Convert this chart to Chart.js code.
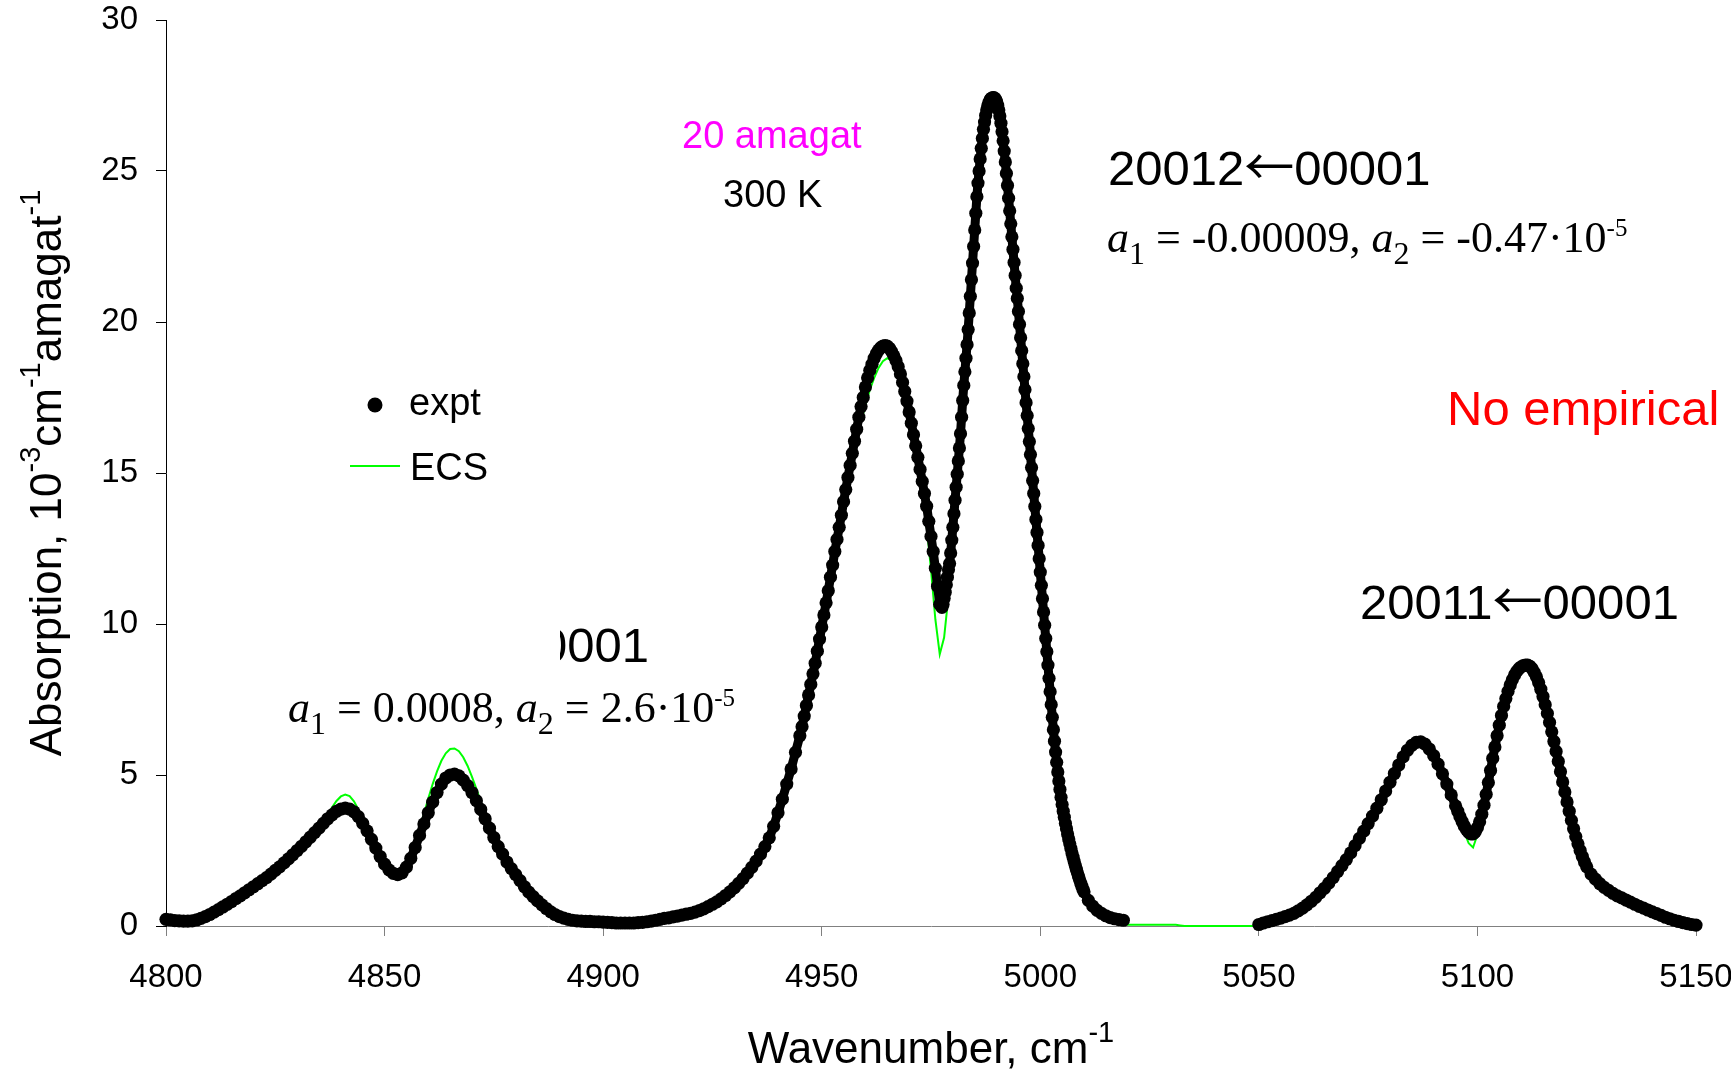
<!DOCTYPE html>
<html>
<head>
<meta charset="utf-8">
<script src="https://cdn.jsdelivr.net/npm/chart.js@4.4.1/dist/chart.umd.min.js"></script>
<style>
    html, body { margin: 0; padding: 0; background: #fff; }
    #wrap { width: 1731px; height: 1072px; position: relative; }
</style>
</head>
<body>
<div id="wrap"><canvas id="myChart"></canvas></div>
<script>
// Измеренный спектр (expt) — куски с разным шагом по волновому числу
// 4800–4945, шаг 1
const exptA = [
    0.22, 0.20, 0.18, 0.17, 0.16, 0.16, 0.17, 0.20, 0.25, 0.31,
    0.38, 0.46, 0.54, 0.63, 0.72, 0.81, 0.91, 1.00, 1.10, 1.20,
    1.30, 1.40, 1.50, 1.60, 1.72, 1.84, 1.96, 2.09, 2.22, 2.36,
    2.50, 2.64, 2.79, 2.94, 3.09, 3.24, 3.40, 3.55, 3.68, 3.80,
    3.87, 3.90, 3.87, 3.78, 3.62, 3.40, 3.15, 2.87, 2.58, 2.30,
    2.05, 1.86, 1.74, 1.70, 1.76, 1.95, 2.24, 2.60, 3.00, 3.38,
    3.75, 4.10, 4.42, 4.70, 4.90, 5.00, 5.03, 4.97, 4.83, 4.65,
    4.42, 4.15, 3.86, 3.55, 3.24, 2.93, 2.63, 2.38, 2.12, 1.90,
    1.70, 1.50, 1.30, 1.12, 0.97, 0.83, 0.70, 0.58, 0.47, 0.38,
    0.31, 0.26, 0.22, 0.19, 0.17, 0.16, 0.15, 0.15, 0.14, 0.14,
    0.13, 0.12, 0.11, 0.10, 0.10, 0.10, 0.10, 0.10, 0.11, 0.12,
    0.14, 0.16, 0.19, 0.22, 0.25, 0.27, 0.30, 0.33, 0.36, 0.39,
    0.42, 0.46, 0.51, 0.57, 0.64, 0.72, 0.80, 0.90, 1.01, 1.13,
    1.26, 1.41, 1.57, 1.75, 1.94, 2.15, 2.38, 2.63, 2.92, 3.30,
    3.75, 4.20, 4.70, 5.20, 5.75, 6.30
];
// 4945.5–4977.5, шаг 0.5
const exptB = [
    6.60, 6.95, 7.30, 7.65, 8.00, 8.35, 8.70, 9.10, 9.50, 9.90,
    10.30, 10.70, 11.10, 11.55, 11.95, 12.40, 12.80, 13.20, 13.60, 14.05,
    14.45, 14.85, 15.25, 15.65, 16.05, 16.45, 16.85, 17.20, 17.50, 17.85,
    18.15, 18.40, 18.60, 18.80, 18.95, 19.07, 19.15, 19.20, 19.22, 19.20,
    19.13, 19.02, 18.88, 18.72, 18.52, 18.28, 18.00, 17.70, 17.38, 17.02,
    16.65, 16.27, 15.90, 15.52, 15.12, 14.72, 14.32, 13.90, 13.40, 12.90,
    12.40, 11.85, 11.25, 10.65, 10.55
];
// 4977.75–5010, шаг 0.25 (главный пик)
const exptC = [
    10.65, 10.85, 11.05, 11.30, 11.55, 11.80, 12.00, 12.35, 12.78, 13.20,
    13.65, 14.10, 14.53, 14.96, 15.40, 15.83, 16.30, 16.85, 17.40, 17.90,
    18.35, 18.80, 19.25, 19.75, 20.30, 20.85, 21.40, 21.95, 22.50, 23.05,
    23.60, 24.15, 24.60, 25.00, 25.40, 25.75, 26.08, 26.38, 26.62, 26.84,
    27.02, 27.16, 27.27, 27.35, 27.40, 27.42, 27.43, 27.42, 27.38, 27.30,
    27.18, 27.02, 26.82, 26.58, 26.30, 26.00, 25.66, 25.30, 24.92, 24.52,
    24.10, 23.68, 23.25, 22.82, 22.40, 21.97, 21.54, 21.12, 20.78, 20.35,
    19.92, 19.48, 19.05, 18.62, 18.19, 17.76, 17.33, 16.90, 16.47, 16.04,
    15.61, 15.18, 14.75, 14.32, 13.89, 13.46, 13.03, 12.60, 12.16, 11.72,
    11.28, 10.84, 10.40, 9.96, 9.52, 9.08, 8.64, 8.20, 7.76, 7.33,
    6.91, 6.50, 6.12, 5.76, 5.42, 5.10, 4.80, 4.52, 4.26, 4.02,
    3.80, 3.60, 3.40, 3.22, 3.05, 2.88, 2.72, 2.57, 2.42, 2.28,
    2.14, 2.01, 1.88, 1.76, 1.64, 1.53, 1.42, 1.32, 1.22, 1.13
];
// 5011–5019, шаг 1
const exptD = [0.85, 0.66, 0.52, 0.42, 0.34, 0.28, 0.24, 0.21, 0.19];
// 5050–5095, шаг 1
const exptE = [
    0.05, 0.10, 0.14, 0.18, 0.22, 0.26, 0.31, 0.36, 0.42, 0.50,
    0.59, 0.70, 0.82, 0.95, 1.10, 1.25, 1.42, 1.60, 1.80, 2.00,
    2.20, 2.42, 2.66, 2.90, 3.14, 3.39, 3.64, 3.90, 4.18, 4.47,
    4.76, 5.05, 5.33, 5.60, 5.82, 5.98, 6.08, 6.10, 6.02, 5.86,
    5.64, 5.36, 5.04, 4.70, 4.34, 3.98
];
// 5095.5–5125, шаг 0.5
const exptF = [
    3.80, 3.62, 3.46, 3.31, 3.19, 3.10, 3.05, 3.05, 3.12, 3.26,
    3.45, 3.70, 4.00, 4.36, 4.75, 5.15, 5.55, 5.93, 6.30, 6.65,
    6.97, 7.27, 7.53, 7.77, 7.98, 8.16, 8.31, 8.43, 8.52, 8.58,
    8.62, 8.64, 8.64, 8.60, 8.52, 8.40, 8.25, 8.06, 7.84, 7.60,
    7.33, 7.04, 6.74, 6.43, 6.11, 5.78, 5.45, 5.11, 4.77, 4.44,
    4.11, 3.80, 3.50, 3.22, 2.96, 2.72, 2.50, 2.30, 2.12, 1.96
];
// 5126–5150, шаг 1
const exptG = [
    1.72, 1.55, 1.40, 1.28, 1.18, 1.08, 1.00, 0.93, 0.86, 0.79,
    0.72, 0.65, 0.59, 0.53, 0.47, 0.41, 0.35, 0.29, 0.24, 0.19,
    0.15, 0.11, 0.08, 0.05, 0.03
];

// начало и шаг каждого куска: [start, step, values]
const exptSegments = [
    [4800, 1, exptA], [4945.5, 0.5, exptB], [4977.75, 0.25, exptC], [5011, 1, exptD],
    [5050, 1, exptE], [5095.5, 0.5, exptF], [5126, 1, exptG]
];

// Расчёт ECS, 4800–5150, шаг 1
const ecsStart = 4800;
const ecsValues = [
    0.22, 0.20, 0.18, 0.17, 0.16, 0.16, 0.17, 0.20, 0.25, 0.31,
    0.38, 0.46, 0.54, 0.63, 0.72, 0.81, 0.91, 1.00, 1.10, 1.20,
    1.30, 1.40, 1.50, 1.60, 1.72, 1.84, 1.96, 2.09, 2.22, 2.36,
    2.50, 2.64, 2.79, 2.94, 3.10, 3.28, 3.48, 3.70, 3.93, 4.14,
    4.29, 4.35, 4.30, 4.13, 3.86, 3.53, 3.18, 2.84, 2.53, 2.26,
    2.03, 1.85, 1.74, 1.70, 1.77, 1.98, 2.32, 2.75, 3.22, 3.72,
    4.22, 4.70, 5.12, 5.47, 5.72, 5.86, 5.88, 5.79, 5.59, 5.30,
    4.94, 4.54, 4.12, 3.71, 3.32, 2.96, 2.63, 2.36, 2.11, 1.90,
    1.70, 1.50, 1.30, 1.12, 0.97, 0.83, 0.70, 0.58, 0.47, 0.38,
    0.31, 0.26, 0.22, 0.19, 0.17, 0.16, 0.15, 0.15, 0.14, 0.14,
    0.13, 0.12, 0.11, 0.10, 0.10, 0.10, 0.10, 0.10, 0.11, 0.12,
    0.14, 0.16, 0.19, 0.22, 0.25, 0.27, 0.30, 0.33, 0.36, 0.39,
    0.42, 0.46, 0.51, 0.57, 0.64, 0.72, 0.80, 0.90, 1.01, 1.13,
    1.26, 1.41, 1.57, 1.75, 1.94, 2.15, 2.38, 2.63, 2.92, 3.30,
    3.75, 4.20, 4.70, 5.20, 5.75, 6.30, 6.90, 7.55, 8.25, 9.00,
    9.80, 10.62, 11.45, 12.28, 13.10, 13.90, 14.65, 15.38, 16.05, 16.70,
    17.25, 17.75, 18.15, 18.48, 18.70, 18.80, 18.74, 18.50, 18.12, 17.62,
    17.02, 16.30, 15.45, 14.45, 13.25, 11.80, 10.15, 9.00, 9.55, 10.95,
    13.10, 14.95, 16.85, 18.80, 20.85, 23.05, 25.00, 26.38, 27.16, 27.42,
    27.30, 26.58, 25.30, 23.68, 21.97, 20.35, 18.62, 16.90, 15.18, 13.46,
    11.72, 9.96, 8.20, 6.50, 5.10, 4.02, 3.22, 2.57, 2.01, 1.53,
    1.13, 0.85, 0.66, 0.52, 0.42, 0.34, 0.28, 0.24, 0.21, 0.16,
    0.04, 0.04, 0.04, 0.04, 0.04, 0.04, 0.04, 0.04, 0.04, 0.04,
    0.04, 0.04, 0.02, 0.00, 0.00, 0.00, 0.00, 0.00, 0.00, 0.00,
    0.00, 0.00, 0.00, 0.00, 0.00, 0.00, 0.00, 0.00, 0.00, 0.01,
    0.03, 0.10, 0.14, 0.18, 0.22, 0.26, 0.31, 0.36, 0.42, 0.50,
    0.59, 0.70, 0.82, 0.95, 1.10, 1.25, 1.42, 1.60, 1.80, 2.00,
    2.20, 2.42, 2.66, 2.90, 3.14, 3.39, 3.64, 3.90, 4.18, 4.47,
    4.76, 5.05, 5.33, 5.60, 5.82, 5.98, 6.08, 6.10, 6.02, 5.86,
    5.64, 5.36, 5.04, 4.70, 4.34, 3.95, 3.52, 3.10, 2.74, 2.60,
    3.02, 3.62, 4.36, 5.15, 5.93, 6.65, 7.27, 7.77, 8.16, 8.43,
    8.58, 8.64, 8.60, 8.40, 8.06, 7.60, 7.04, 6.43, 5.78, 5.11,
    4.44, 3.80, 3.22, 2.72, 2.30, 1.96, 1.72, 1.55, 1.40, 1.28,
    1.18, 1.08, 1.00, 0.93, 0.86, 0.79, 0.72, 0.65, 0.59, 0.53,
    0.47, 0.41, 0.35, 0.29, 0.24, 0.19, 0.15, 0.11, 0.08, 0.05,
    0.03
];

// Оси
const xMin = 4800, xMax = 5150, xStep = 50;
const yMin = 0, yMax = 30, yStep = 5;

// Подписи
const densityText = '20 amagat';
const tempText = '300 K';
const bandHigh = ['20012', '00001'];
const bandRight = ['20011', '00001'];
const bandLeftTail = '0001';
const coefHigh = ['-0.00009', '-0.47'];
const coefLow = ['0.0008', '2.6'];
const noteText = 'No empirical';

const SANS = "'Liberation Sans', Arial, sans-serif";
const SERIF = "'Liberation Serif', 'Times New Roman', serif";
const ARROW_FONT = "'Noto Sans CJK JP', 'DejaVu Sans', sans-serif";

function toPoints(start, step, values) {
    return values.map((v, i) => ({ x: start + i * step, y: v }));
}

// точки expt; между кусками с большим промежутком — разрыв линии
const exptPoints = [];
exptSegments.forEach((s, k) => {
    if (k > 0) {
        const prev = exptSegments[k - 1];
        const prevEnd = prev[0] + (prev[2].length - 1) * prev[1];
        if (s[0] - prevEnd > 5) exptPoints.push({ x: (prevEnd + s[0]) / 2, y: null });
    }
    exptPoints.push(...toPoints(s[0], s[1], s[2]));
});
const ecsPoints = toPoints(ecsStart, 1, ecsValues);

// Рисуем строку из кусков (индексы, степени) подряд
function drawRuns(ctx, x, y, runs, align) {
    let total = 0;
    runs.forEach(r => { ctx.font = r.font; r.w = ctx.measureText(r.text).width; total += r.w; });
    let cx = align === 'center' ? x - total / 2 : x;
    runs.forEach(r => {
        ctx.font = r.font;
        ctx.fillStyle = r.color || '#000';
        ctx.fillText(r.text, cx, y + (r.dy || 0));
        cx += r.w;
    });
}

function coefRuns(a1, a2) {
    const main = `44px ${SERIF}`, ital = `italic 44px ${SERIF}`, sub = `32px ${SERIF}`, sup = `25px ${SERIF}`;
    return [
        { text: 'a', font: ital },
        { text: '1', font: sub, dy: 12 },
        { text: ' = ' + a1 + ', ', font: main },
        { text: 'a', font: ital },
        { text: '2', font: sub, dy: 12 },
        { text: ' = ' + a2 + '\u00b710', font: main },
        { text: '-5', font: sup, dy: -16 }
    ];
}

function bandRuns(pair) {
    return [
        { text: pair[0], font: `49px ${SANS}` },
        { text: '\u2190', font: `50px ${ARROW_FONT}`, dy: 0 },
        { text: pair[1], font: `49px ${SANS}` }
    ];
}

const textPlugin = {
    id: 'textPlugin',
    afterDraw(chart) {
        const ctx = chart.ctx;
        ctx.save();
        ctx.textBaseline = 'alphabetic';
        ctx.textAlign = 'left';

        const big = `49px ${SANS}`, mid = `38px ${SANS}`;
        const title = `44px ${SANS}`, titleSup = `29px ${SANS}`;

        // заголовок оси Y
        ctx.save();
        ctx.translate(61, 473);
        ctx.rotate(-Math.PI / 2);
        drawRuns(ctx, 0, 0, [
            { text: 'Absorption, 10', font: title },
            { text: '-3', font: titleSup, dy: -21 },
            { text: 'cm', font: title },
            { text: '-1', font: titleSup, dy: -21 },
            { text: 'amagat', font: title },
            { text: '-1', font: titleSup, dy: -21 }
        ], 'center');
        ctx.restore();

        // заголовок оси X
        drawRuns(ctx, 931, 1063, [
            { text: 'Wavenumber, cm', font: title },
            { text: '-1', font: titleSup, dy: -21 }
        ], 'center');

        // условия
        drawRuns(ctx, 682, 148, [{ text: densityText, font: mid, color: '#ff00ff' }]);
        drawRuns(ctx, 723, 207, [{ text: tempText, font: mid }]);

        // полосы
        drawRuns(ctx, 1108, 185, bandRuns(bandHigh));
        drawRuns(ctx, 1107, 252, coefRuns(coefHigh[0], coefHigh[1]));
        drawRuns(ctx, 1447, 425, [{ text: noteText, font: big, color: '#ff0000' }]);
        drawRuns(ctx, 1360, 619, bandRuns(bandRight));

        ctx.save();
        ctx.beginPath();
        ctx.rect(560, 600, 200, 80);
        ctx.clip();
        ctx.textAlign = 'right';
        ctx.font = big;
        ctx.fillStyle = '#000';
        ctx.fillText(bandLeftTail, 649, 662);
        ctx.restore();

        drawRuns(ctx, 288, 722, coefRuns(coefLow[0], coefLow[1]));

        // легенда
        ctx.fillStyle = '#000';
        ctx.beginPath();
        ctx.arc(375, 405, 7.5, 0, Math.PI * 2);
        ctx.fill();
        drawRuns(ctx, 409, 415, [{ text: chart.data.datasets[0].label, font: mid }]);
        ctx.strokeStyle = '#00ff00';
        ctx.lineWidth = 2;
        ctx.beginPath();
        ctx.moveTo(350, 466);
        ctx.lineTo(400, 466);
        ctx.stroke();
        drawRuns(ctx, 410, 480, [{ text: chart.data.datasets[1].label, font: mid }]);

        ctx.restore();
    }
};

const ctx = document.getElementById('myChart').getContext('2d');
new Chart(ctx, {
    type: 'scatter',
    data: {
        datasets: [
            {
                label: 'expt',
                data: exptPoints,
                // плотные точки сливаются в толстую полосу
                showLine: true,
                spanGaps: false,
                borderColor: '#000000',
                borderWidth: 9,
                borderJoinStyle: 'round',
                pointRadius: 6.6,
                pointBorderWidth: 0,
                pointBackgroundColor: '#000000',
                clip: false,
                order: 0
            },
            {
                label: 'ECS',
                data: ecsPoints,
                showLine: true,
                borderColor: '#00ff00',
                borderWidth: 2,
                pointRadius: 0,
                tension: 0,
                clip: false,
                order: 1
            }
        ]
    },
    options: {
        responsive: true,
        maintainAspectRatio: false,
        animation: false,
        devicePixelRatio: 1,
        layout: { padding: { left: 0, right: 35, top: 20, bottom: 0 } },
        plugins: {
            legend: { display: false },
            tooltip: { enabled: false }
        },
        scales: {
            x: {
                type: 'linear',
                min: xMin, max: xMax,
                afterFit(s) { s.height = 146; s.paddingLeft = 0; s.paddingRight = 0; },
                ticks: {
                    stepSize: xStep,
                    autoSkip: false,
                    maxRotation: 0,
                    padding: 22,
                    color: '#000',
                    font: { family: SANS, size: 33 },
                    callback: v => String(v)
                },
                grid: { drawOnChartArea: false, drawTicks: true, tickLength: 10, color: '#808080' },
                border: { display: true, color: '#808080', width: 1 }
            },
            y: {
                min: yMin, max: yMax,
                afterFit(s) { s.width = 166; s.paddingTop = 0; s.paddingBottom = 0; },
                ticks: {
                    stepSize: yStep,
                    padding: 18,
                    color: '#000',
                    font: { family: SANS, size: 33 },
                    callback: v => String(v)
                },
                grid: { drawOnChartArea: false, drawTicks: true, tickLength: 10, color: '#000' },
                border: { display: true, color: '#000', width: 1 }
            }
        }
    },
    plugins: [textPlugin]
});
</script>
</body>
</html>
